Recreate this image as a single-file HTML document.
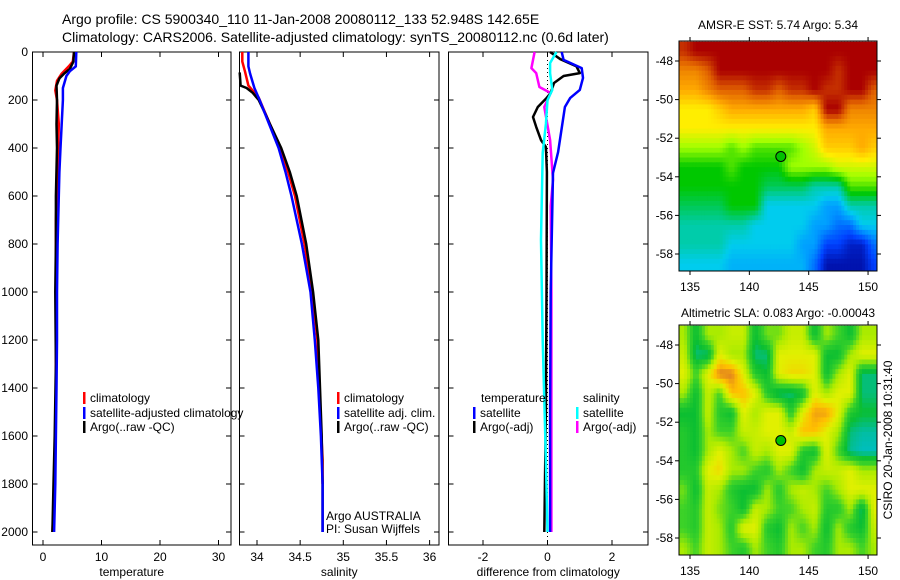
<!DOCTYPE html>
<html><head><meta charset="utf-8"><style>
body{margin:0;background:#fff;}
svg{display:block;font-family:"Liberation Sans",sans-serif;}
</style></head><body>
<svg id="c" width="900" height="580" viewBox="0 0 900 580" xmlns="http://www.w3.org/2000/svg">
<defs>
<clipPath id="cm1"><rect x="679" y="41" width="198" height="230"/></clipPath>
<clipPath id="cm2"><rect x="679" y="325" width="198" height="230"/></clipPath>
</defs>
<text x="62" y="24" font-size="14">Argo profile: CS 5900340_110 11-Jan-2008 20080112_133 52.948S 142.65E</text>
<text x="62" y="42" font-size="14">Climatology: CARS2006. Satellite-adjusted climatology: synTS_20080112.nc (0.6d later)</text>
<text x="778" y="29" font-size="12" text-anchor="middle">AMSR-E SST: 5.74 Argo: 5.34</text>
<text x="778" y="317" font-size="12" text-anchor="middle">Altimetric SLA: 0.083 Argo: -0.00043</text>
<text transform="translate(892,440) rotate(-90)" font-size="12" text-anchor="middle">CSIRO 20-Jan-2008 10:31:40</text>
<g id="g"></g>
</svg>
<script>
// depth axis shared
const depthTicks = [0,200,400,600,800,1000,1200,1400,1600,1800,2000];
// temperature panel
const tempTicks = [0,10,20,30];
const tClimD = [0,40,60,90,120,160,200,300,400,500,700,1000,1400,1800,2000];
const tClimV = [5.3,5.1,4.4,3.2,2.4,2.1,2.4,2.7,2.6,2.5,2.2,2.2,2.2,2.0,1.6];
const tArgoD = [0,40,70,90,110,140,200,300,400,600,800,1000,1300,1600,1800,2000];
const tArgoV = [5.3,5.2,4.6,3.6,2.8,2.3,2.4,2.3,2.4,2.2,2.2,2.1,2.2,2.0,1.8,1.6];
const tSatD = [0,60,80,100,150,200,300,400,500,600,800,1000,1200,1400,1600,1800,2000];
const tSatV = [5.7,5.6,4.6,4.0,3.4,3.4,3.2,3.0,2.8,2.7,2.5,2.4,2.4,2.3,2.2,2.1,1.9];
// salinity panel
const salTicks = [34,34.5,35,35.5,36];
const sClimD = [0,40,80,140,190,300,400,500,600,800,1000,1200,1400,1700,1800];
const sClimV = [33.83,33.83,33.86,33.90,34.02,34.15,34.27,34.36,34.44,34.55,34.64,34.70,34.72,34.76,34.76];
const sArgoD = [85,140,150,170,200,260,300,400,500,600,800,1000,1200,1400,1600,1800,2000];
const sArgoV = [33.80,33.81,33.88,33.95,34.02,34.10,34.15,34.28,34.38,34.46,34.57,34.65,34.71,34.73,34.75,34.76,34.76];
const sSatD = [0,60,90,150,200,300,400,500,600,800,1000,1200,1400,1600,1800,2000];
const sSatV = [33.90,33.90,33.92,33.97,34.03,34.14,34.25,34.33,34.40,34.52,34.62,34.67,34.71,34.74,34.76,34.76];
// difference panel
const diffTicks = [-2,0,2];
const dTSatD = [0,33,67,108,158,192,229,417,504,1000,1500,2000];
const dTSatV = [0.44,0.5,1.06,1.1,1.0,0.7,0.54,0.33,0.17,0.1,0.08,0.08];
const dTArgoD = [0,30,60,88,100,129,171,192,229,271,312,367,396,500,1000,1500,2000];
const dTArgoV = [0.08,0.4,0.9,1.0,0.5,0.2,0.1,-0.03,-0.3,-0.45,-0.35,-0.2,-0.05,-0.02,-0.03,-0.05,-0.1];
const dSSatD = [0,46,88,158,200,300,420,783,1200,1700,2000];
const dSSatV = [0.28,0.08,0.08,0.15,0.0,-0.05,-0.15,-0.2,-0.15,-0.05,0.0];
const dSArgoD = [0,67,88,146,171,229,367,533,642,1000,1500,2000];
const dSArgoV = [-0.4,-0.5,-0.35,-0.25,0.1,-0.1,0.08,0.17,0.1,0.12,0.12,0.12];
// maps
const lonTicks = [135,140,145,150];
const latTicks = [-48,-50,-52,-54,-56,-58];
const cellLon = [134,135,136,137,138,139,140,141,142,143,144,145,146,147,148,149,150];
const cellLat = [-47,-48,-49,-50,-51,-52,-53,-54,-55,-56,-57,-58];
const argoLon = 142.65, argoLat = -52.948;
const sstRows = [
[8.5,9,9,9,9,9,9,9,9,9,9,9,9,9,9,9,9],
[7.5,7.5,8,9,9,9,9,9,9,9,9,9,9,8.5,9,9,9],
[7,7,7.5,8,8,8,8.5,8.5,8,8.5,8.5,9,8.5,8.5,9,9,8],
[6,6,6,6.5,7,7,7,7,7,7,7,6.5,9,9,7.5,7.5,7.5],
[6,6,6,6,6,6,6,6,6,6,6,6,7,7,7,7,7],
[5,5,5,5,4.5,5,4.5,4.5,4.5,4.5,5,5.5,6.5,6.5,6.5,7,6.5],
[4,4,4,4,4.5,4,4,4,4,5,5,5,5,5.5,5.5,5.5,5.5],
[4,4,4,4,4,4,4,3.5,3.5,3.5,3.5,3,3,3,4.5,4.5,4.5],
[3.5,3.5,3.5,3.5,4,4,4,2.5,2.5,2.5,2.5,2.5,2,2,3,3,3],
[3,3,3,3,3,3,2.5,2.5,2.5,2.5,2.5,2,2,1.5,1.5,2.5,2.5],
[3,3,3,3,2.5,2.5,2.5,2.5,2.5,2.5,2,2,1,1,0.5,0.5,1.5],
[2.5,2.5,2.5,2.5,2.2,2.2,2.2,2.2,2.2,2.2,2.2,1.5,0.3,0.3,0.3,0.3,1]];
const slaRows = [
[4,2,4,4,4.5,4.5,2,3.5,3.5,4.5,4.5,2,4,3,2,4,4],
[4.5,1.5,1.5,5,4,4,1.5,1.5,5,5,5,5,2,2,4,5,5],
[5,3,5,7,7,5,2.5,2,5,5.5,5.5,5,2,4,5,1.5,1.5],
[4,2,4.5,3,6,6,5,2.5,1.5,1.5,2,5,4,5,5,1.5,1.5],
[2,2,4.5,2.5,2,5,4,5,5,2.5,5,6.5,6.5,5,2.5,2,2],
[2.5,2,4,3,3,4.5,4.5,5,5,4.5,6,6,5,4,1.5,1.2,1.2],
[2.5,2,4,5,4,3,4.5,4,5,5,2.5,2,5,3,1.3,1,1],
[2.5,2.5,5,5.5,4,4,3,2.5,4,3,2,4,4.5,4.5,5,4,4],
[3.5,2,4.5,4,2.5,2,2,4,2.5,4,4.5,4,3,4,5,5,5],
[3,2.5,4.5,3.5,3,2,4.5,4,3,3,4,4.5,2.5,2.5,4,1.5,5],
[3,2.5,4.5,4,2.5,5,5,2.5,2,4,3,4,2,4,2.5,2,4.5],
[4,3,4.5,4,3,2.5,4,3,2.5,4,4,3,2.5,4,4,3,4]];

const NS='http://www.w3.org/2000/svg';
const G=document.getElementById('g');
function el(t,a,p){const e=document.createElementNS(NS,t);for(const k in a)e.setAttribute(k,a[k]);(p||G).appendChild(e);return e;}
const Y0=52, PXM=0.24, YB=545;
function yD(d){return Y0+d*PXM;}
const panels=[
 {x0:32.5,x1:231,f:v=>43+v*5.85,ticks:tempTicks,lab:'temperature',name:'temperature'},
 {x0:239.5,x1:439,f:v=>257+(v-34)*86.3,ticks:salTicks,lab:'salinity',name:'salinity'},
 {x0:448.5,x1:648,f:v=>547.5+v*32.25,ticks:diffTicks,lab:'difference from climatology',name:'difference'}];
panels.forEach((p,i)=>{
 const fr=el('rect',{x:p.x0,y:Y0,width:p.x1-p.x0,height:YB-Y0,fill:'none',stroke:'#000','stroke-width':1});
 
 
 depthTicks.forEach(d=>{
  const y=yD(d);
  el('line',{x1:p.x0,x2:p.x0+5,y1:y,y2:y,stroke:'#000'});
  el('line',{x1:p.x1,x2:p.x1-5,y1:y,y2:y,stroke:'#000'});
  if(i===0){const t=el('text',{x:28,y:y+4,'font-size':12,'text-anchor':'end'});t.textContent=d;
   
   }
 });
 p.ticks.forEach(v=>{
  const x=p.f(v);
  el('line',{x1:x,x2:x,y1:YB,y2:YB-5,stroke:'#000'});
  el('line',{x1:x,x2:x,y1:Y0,y2:Y0+5,stroke:'#000'});
  const t=el('text',{x:x,y:561,'font-size':12,'text-anchor':'middle'});t.textContent=v;
  
  
 });
 const l=el('text',{x:(p.x0+p.x1)/2,y:576,'font-size':12,'text-anchor':'middle'});l.textContent=p.lab;
 
 
});
const zl=el('line',{x1:panels[2].f(0),x2:panels[2].f(0),y1:Y0,y2:YB,stroke:'#000','stroke-dasharray':'1,3'});


function line(p,D,V,col,nm){
 const pts=D.map((d,k)=>p.f(V[k]).toFixed(1)+','+yD(d).toFixed(1)).join(' ');
 const e=el('polyline',{points:pts,fill:'none',stroke:col,'stroke-width':2.5,'stroke-linejoin':'round'});
 
 
}
line(panels[0],tClimD,tClimV,'#f00','temperature-climatology-line');
line(panels[0],tArgoD,tArgoV,'#000','temperature-argo-line');
line(panels[0],tSatD,tSatV,'#00f','temperature-satellite-line');
line(panels[1],sClimD,sClimV,'#f00','salinity-climatology-line');
line(panels[1],sArgoD,sArgoV,'#000','salinity-argo-line');
line(panels[1],sSatD,sSatV,'#00f','salinity-satellite-line');
line(panels[2],dSArgoD,dSArgoV,'#f0f','salinity-argo-diff-line');
line(panels[2],dTArgoD,dTArgoV,'#000','temperature-argo-diff-line');
line(panels[2],dTSatD,dTSatV,'#00f','temperature-satellite-diff-line');
line(panels[2],dSSatD,dSSatV,'#0ff','salinity-satellite-diff-line');
function legend(x,y,col,txt,nm){
 const g=el('g',{});
 
 
 if(col)el('rect',{x:x,y:y-10,width:2.5,height:12,fill:col},g);
 const t=el('text',{x:x+7,y:y,'font-size':12},g);t.textContent=txt;
}
legend(83,402,'#f00','climatology','legend-climatology');
legend(83,417,'#00f','satellite-adjusted climatology','legend-satellite-adjusted');
legend(83,431,'#000','Argo(..raw -QC)','legend-argo');
legend(337,402,'#f00','climatology','legend-sal-climatology');
legend(337,417,'#00f','satellite adj. clim.','legend-sal-satellite');
legend(337,431,'#000','Argo(..raw -QC)','legend-sal-argo');
legend(474,402,null,'temperature','legend-temperature-header');
legend(473,417,'#00f','satellite','legend-diff-temp-satellite');
legend(473,431,'#000','Argo(-adj)','legend-diff-temp-argo');
legend(576,402,null,'salinity','legend-salinity-header');
legend(576,417,'#0ff','satellite','legend-diff-sal-satellite');
legend(576,431,'#f0f','Argo(-adj)','legend-diff-sal-argo');
const cr=el('text',{x:326,y:520,'font-size':12});cr.textContent='Argo AUSTRALIA';


const cr2=el('text',{x:326,y:533,'font-size':12});cr2.textContent='PI: Susan Wijffels';


function interp(stops,v){
 for(let k=0;k<stops.length-1;k++){const a=stops[k],b=stops[k+1];
  if(v<=b[0]){const t=Math.max(0,(v-a[0])/(b[0]-a[0]));
   return 'rgb('+[1,2,3].map(j=>Math.round(a[j]+(b[j]-a[j])*t)).join(',')+')';}}
 const l=stops[stops.length-1];return 'rgb('+l[1]+','+l[2]+','+l[3]+')';
}
const sstPal=[[0,0,0,140],[1,0,64,255],[2,0,160,255],[2.5,0,204,238],[3,0,204,170],[4,0,200,0],[5,160,255,0],[6,255,238,0],[7,255,170,0],[8,224,96,0],[9,170,0,0]];
const slaPal=[[1,0,190,190],[2,10,190,50],[3,60,210,40],[4,170,235,0],[5,225,240,0],[6,255,192,0],[7,224,128,32]];
function sample(rows,fr,fc){
 const R=rows.length,C=rows[0].length;
 fr=Math.min(Math.max(fr,0),R-1);fc=Math.min(Math.max(fc,0),C-1);
 const r0=Math.floor(fr),c0=Math.floor(fc),r1=Math.min(r0+1,R-1),c1=Math.min(c0+1,C-1);
 const tr=fr-r0,tc=fc-c0;
 return (rows[r0][c0]*(1-tc)+rows[r0][c1]*tc)*(1-tr)+(rows[r1][c0]*(1-tc)+rows[r1][c1]*tc)*tr;
}
function map(top,rows,pal,clip,nm){
 const mx=lon=>690+(lon-135)*11.87, my=lat=>top+20+(-48-lat)*19.3;
 const g=el('g',{'clip-path':'url(#'+clip+')'});
 
 
 const S=4;
 rows.forEach((row,r)=>row.forEach((v,c)=>{
  for(let i=0;i<S;i++)for(let j=0;j<S;j++){
   const fr=r+(i+0.5)/S-0.5, fc=c+(j+0.5)/S-0.5;
   const val=sample(rows,fr,fc);
   const x=mx(cellLon[c])+j*11.87/S, y=my(cellLat[r])+i*19.3/S;
   const e=el('rect',{x:x.toFixed(2),y:y.toFixed(2),width:(11.87/S+0.6).toFixed(2),height:(19.3/S+0.6).toFixed(2),fill:interp(pal,val)},g);
   
   
  }
 }));
 const fr=el('rect',{x:679,y:top,width:198,height:230,fill:'none',stroke:'#000','stroke-width':1});
 
 
 latTicks.forEach(l=>{const y=my(l);
  el('line',{x1:679,x2:675,y1:y,y2:y,stroke:'#000'});el('line',{x1:877,x2:881,y1:y,y2:y,stroke:'#000'});
  const t=el('text',{x:673,y:y+4,'font-size':12,'text-anchor':'end'});t.textContent=l;
  
  });
 lonTicks.forEach(l=>{const x=mx(l);
  el('line',{x1:x,x2:x,y1:top,y2:top-4,stroke:'#000'});el('line',{x1:x,x2:x,y1:top+230,y2:top+234,stroke:'#000'});
  const t=el('text',{x:x,y:top+250,'font-size':12,'text-anchor':'middle'});t.textContent=l;
  
  });
 const m=el('circle',{cx:mx(argoLon),cy:my(argoLat),r:5,fill:'#00c000',stroke:'#000','stroke-width':1});
 
 
}
map(41,sstRows,sstPal,'cm1','sst-map');
map(325,slaRows,slaPal,'cm2','sla-map');
</script>
</body></html>
